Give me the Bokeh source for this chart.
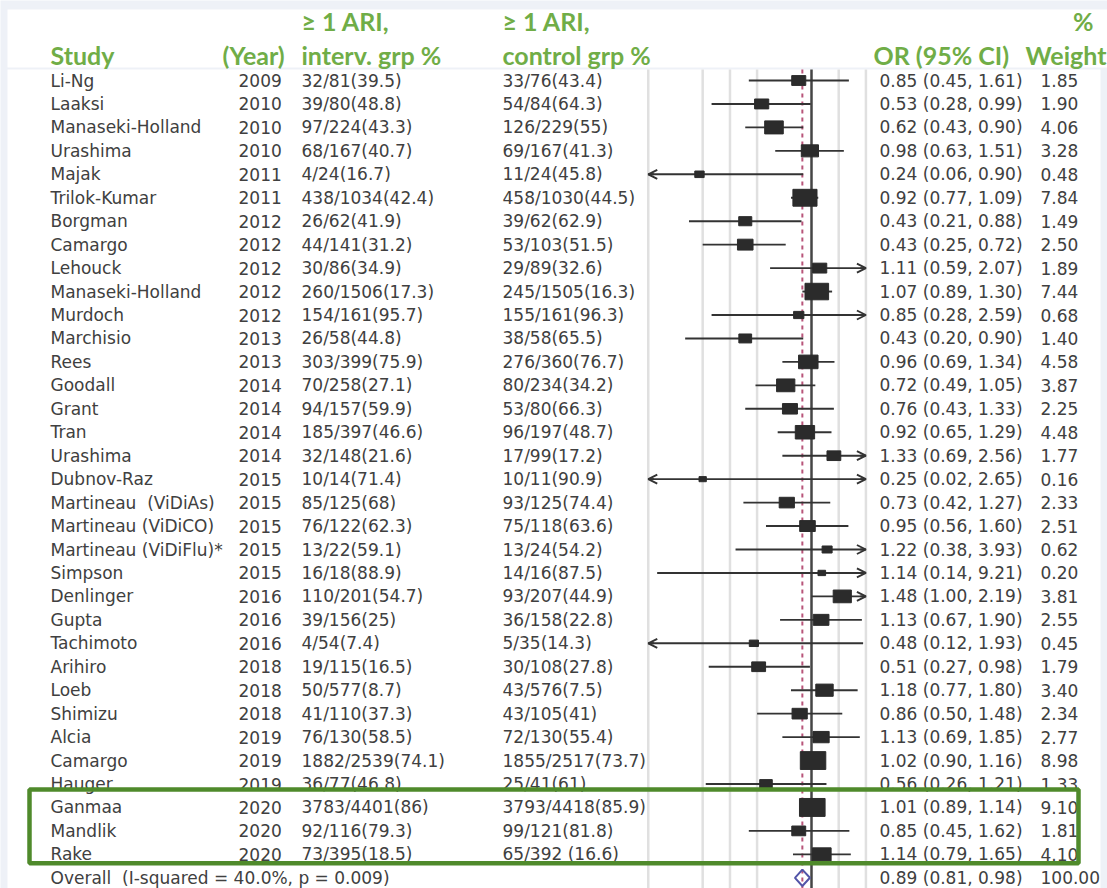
import math
from bokeh.plotting import figure
from bokeh.models import Range1d, LogScale, ColumnDataSource, Arrow, OpenHead
from bokeh.core.properties import value
from bokeh.embed import file_html
from bokeh.resources import INLINE

# ---------------- data ----------------
studies = ["Li-Ng", "Laaksi", "Manaseki-Holland", "Urashima", "Majak", "Trilok-Kumar",
           "Borgman", "Camargo", "Lehouck", "Manaseki-Holland", "Murdoch", "Marchisio",
           "Rees", "Goodall", "Grant", "Tran", "Urashima", "Dubnov-Raz",
           "Martineau\u00a0 (ViDiAs)", "Martineau (ViDiCO)", "Martineau (ViDiFlu)*", "Simpson",
           "Denlinger", "Gupta", "Tachimoto", "Arihiro", "Loeb", "Shimizu", "Alcia",
           "Camargo", "Hauger", "Ganmaa", "Mandlik", "Rake"]
years = ["2009", "2010", "2010", "2010", "2011", "2011", "2012", "2012", "2012", "2012",
         "2012", "2013", "2013", "2014", "2014", "2014", "2014", "2015", "2015", "2015",
         "2015", "2015", "2016", "2016", "2016", "2018", "2018", "2018", "2019", "2019",
         "2019", "2020", "2020", "2020"]
interv = ["32/81(39.5)", "39/80(48.8)", "97/224(43.3)", "68/167(40.7)", "4/24(16.7)",
          "438/1034(42.4)", "26/62(41.9)", "44/141(31.2)", "30/86(34.9)", "260/1506(17.3)",
          "154/161(95.7)", "26/58(44.8)", "303/399(75.9)", "70/258(27.1)", "94/157(59.9)",
          "185/397(46.6)", "32/148(21.6)", "10/14(71.4)", "85/125(68)", "76/122(62.3)",
          "13/22(59.1)", "16/18(88.9)", "110/201(54.7)", "39/156(25)", "4/54(7.4)",
          "19/115(16.5)", "50/577(8.7)", "41/110(37.3)", "76/130(58.5)", "1882/2539(74.1)",
          "36/77(46.8)", "3783/4401(86)", "92/116(79.3)", "73/395(18.5)"]
control = ["33/76(43.4)", "54/84(64.3)", "126/229(55)", "69/167(41.3)", "11/24(45.8)",
           "458/1030(44.5)", "39/62(62.9)", "53/103(51.5)", "29/89(32.6)", "245/1505(16.3)",
           "155/161(96.3)", "38/58(65.5)", "276/360(76.7)", "80/234(34.2)", "53/80(66.3)",
           "96/197(48.7)", "17/99(17.2)", "10/11(90.9)", "93/125(74.4)", "75/118(63.6)",
           "13/24(54.2)", "14/16(87.5)", "93/207(44.9)", "36/158(22.8)", "5/35(14.3)",
           "30/108(27.8)", "43/576(7.5)", "43/105(41)", "72/130(55.4)", "1855/2517(73.7)",
           "25/41(61)", "3793/4418(85.9)", "99/121(81.8)", "65/392 (16.6)"]
odds = [0.85, 0.53, 0.62, 0.98, 0.24, 0.92, 0.43, 0.43, 1.11, 1.07, 0.85, 0.43, 0.96,
        0.72, 0.76, 0.92, 1.33, 0.25, 0.73, 0.95, 1.22, 1.14, 1.48, 1.13, 0.48, 0.51,
        1.18, 0.86, 1.13, 1.02, 0.56, 1.01, 0.85, 1.14]
ci_lo = [0.45, 0.28, 0.43, 0.63, 0.06, 0.77, 0.21, 0.25, 0.59, 0.89, 0.28, 0.20, 0.69,
         0.49, 0.43, 0.65, 0.69, 0.02, 0.42, 0.56, 0.38, 0.14, 1.00, 0.67, 0.12, 0.27,
         0.77, 0.50, 0.69, 0.90, 0.26, 0.89, 0.45, 0.79]
ci_hi = [1.61, 0.99, 0.90, 1.51, 0.90, 1.09, 0.88, 0.72, 2.07, 1.30, 2.59, 0.90, 1.34,
         1.05, 1.33, 1.29, 2.56, 2.65, 1.27, 1.60, 3.93, 9.21, 2.19, 1.90, 1.93, 0.98,
         1.80, 1.48, 1.85, 1.16, 1.21, 1.14, 1.62, 1.65]
weights = [1.85, 1.90, 4.06, 3.28, 0.48, 7.84, 1.49, 2.50, 1.89, 7.44, 0.68, 1.40, 4.58,
           3.87, 2.25, 4.48, 1.77, 0.16, 2.33, 2.51, 0.62, 0.20, 3.81, 2.55, 0.45, 1.79,
           3.40, 2.34, 2.77, 8.98, 1.33, 9.10, 1.81, 4.10]

overall_label = "Overall\u00a0 (I-squared = 40.0%, p = 0.009)"
overall_or, overall_lo, overall_hi, overall_w = 0.89, 0.81, 0.98, 100.00

null_or = 1.0
grid_vals = [0.125, 0.25, 0.354, 0.5, 1.414, 2.0]
clip_lo, clip_hi = 0.125, 2.0
highlight_first, highlight_last = 31, 33   # Ganmaa .. Rake

header_line1 = ["\u2265 1 ARI,", "\u2265 1 ARI,", "%"]
header_line2 = ["Study", "(Year)", "interv. grp %", "control grp %", "OR (95% CI)", "Weight"]

# ---------------- layout constants ----------------
W, H = 1107, 888
ROW0 = 80.0
STEP = 23.45
y_top = -ROW0 / STEP
y_bot = (H - ROW0) / STEP
X_ONE = 811.0
PX_LN = 78.5
or_start = math.exp(-X_ONE / PX_LN)
or_end = math.exp((W - X_ONE) / PX_LN)

TXT_FONT = value("DejaVu Sans")
TXT_SIZE = "17px"
TXT_COLOR = "#404040"
HDR_FONT = value("Lato")
HDR_SIZE = "25px"
HDR_COLOR = "#70ad47"
BG = "#eef1f7"

p = figure(width=W, height=H, x_range=Range1d(0, W), y_range=Range1d(y_bot, y_top),
           x_axis_location=None, y_axis_location=None, output_backend="svg",
           toolbar_location=None, min_border=0, outline_line_color=None,
           background_fill_color=BG, border_fill_color=BG)
p.grid.grid_line_color = None
p.extra_x_ranges = {"or": Range1d(or_start, or_end)}
p.extra_x_scales = {"or": LogScale()}
p.extra_y_ranges = {"px": Range1d(H, 0)}

n = len(studies)
rows = list(range(n))

# white panels (header image and forest-plot image)
p.quad(left=[7, 7], right=[W, 1100], top=[9, 69], bottom=[67, H], y_range_name="px",
       fill_color="white", line_color=None)

# vertical reference lines
p.segment(x0=grid_vals, x1=grid_vals, y0=[69] * len(grid_vals), y1=[H] * len(grid_vals),
          x_range_name="or", y_range_name="px", line_color="#e0e0e0", line_width=2.5)
p.segment(x0=[overall_or], x1=[overall_or], y0=[69], y1=[H], x_range_name="or",
          y_range_name="px", line_color="#b8557a", line_width=2, line_dash="4 4")
p.segment(x0=[null_or], x1=[null_or], y0=[69], y1=[H], x_range_name="or",
          y_range_name="px", line_color="#454545", line_width=2.5)

# CI lines
seg_src = ColumnDataSource(dict(
    x0=[max(l, clip_lo) for l in ci_lo],
    x1=[min(h, clip_hi) for h in ci_hi],
    y=rows))
p.segment(x0="x0", x1="x1", y0="y", y1="y", source=seg_src, x_range_name="or",
          line_color="#333333", line_width=1.9)

# arrow heads for clipped intervals
ax_s, ax_e, ay = [], [], []
for i in rows:
    if ci_hi[i] > clip_hi:
        ax_s.append(clip_hi * 0.93); ax_e.append(clip_hi); ay.append(i)
    if ci_lo[i] < clip_lo:
        ax_s.append(clip_lo / 0.93); ax_e.append(clip_lo); ay.append(i)
arr_src = ColumnDataSource(dict(xs=ax_s, xe=ax_e, y=ay))
p.add_layout(Arrow(end=OpenHead(size=9, line_width=1.9, line_color="#333333"),
                   x_start="xs", x_end="xe", y_start="y", y_end="y", source=arr_src,
                   line_color="#333333", line_width=1.9, x_range_name="or"))

# weight boxes
box_w = [4.5 + 7 * math.sqrt(w) for w in weights]
box_h = [0.7 * b for b in box_w]
box_src = ColumnDataSource(dict(x=odds, y=rows, w=box_w, h=box_h))
p.rect(x="x", y="y", width="w", height="h", width_units="screen", height_units="screen",
       source=box_src, x_range_name="or", fill_color="#2b2b2b", line_color="#2b2b2b")

# overall diamond
p.patch(x=[overall_lo, overall_or, overall_hi, overall_or],
        y=[n, n - 0.35, n, n + 0.35], x_range_name="or",
        fill_color=None, line_color="#5254a8", line_width=2)

# text columns
or_txt = [f"{o:.2f} ({l:.2f}, {h:.2f})" for o, l, h in zip(odds, ci_lo, ci_hi)]
wt_txt = [f"{w:.2f}" for w in weights]
cols = [
    (50, studies + [overall_label]),
    (238, years + [""]),
    (301, interv + [""]),
    (502, control + [""]),
    (879, or_txt + [f"{overall_or:.2f} ({overall_lo:.2f}, {overall_hi:.2f})"]),
    (1040, wt_txt + [f"{overall_w:.2f}"]),
]
for xpos, texts in cols:
    src = ColumnDataSource(dict(x=[xpos] * (n + 1), y=list(range(n + 1)), t=texts))
    p.text(x="x", y="y", text="t", source=src, text_font=TXT_FONT,
           text_font_size=TXT_SIZE, text_color=TXT_COLOR, text_baseline="middle",
           text_align="left")

# highlight box around the 2020 studies
p.quad(left=[29], right=[1078], top=[highlight_first - 0.77], bottom=[highlight_last + 0.38],
       fill_color=None, line_color="#4f8a2b", line_width=4.5)

# headers
h1 = ColumnDataSource(dict(x=[301, 502, 1093], y=[20, 20, 20], t=header_line1,
                           a=["left", "left", "right"]))
p.text(x="x", y="y", text="t", source=h1, y_range_name="px", text_font=HDR_FONT,
       text_font_style="bold", text_font_size=HDR_SIZE, text_color=HDR_COLOR,
       text_baseline="alphabetic", text_align="a")
h2 = ColumnDataSource(dict(x=[50, 222, 301, 502, 873, 1106], y=[54] * 6, t=header_line2,
                           a=["left", "left", "left", "left", "left", "right"]))
p.text(x="x", y="y", text="t", source=h2, y_range_name="px", text_font=HDR_FONT,
       text_font_style="bold", text_font_size=HDR_SIZE, text_color=HDR_COLOR,
       text_baseline="alphabetic", text_align="a")

open("out.html", "w").write(file_html(p, INLINE))
